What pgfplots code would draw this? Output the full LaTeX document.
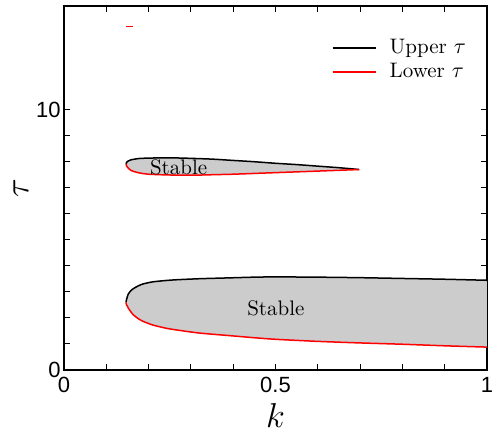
\documentclass[border=0pt]{standalone}
\usepackage{fontspec}
\usepackage{pgfplots}
\pgfplotsset{compat=1.18}
\newfontfamily\arial{Liberation Sans}
\pgfplotsset{legend image code/.code={\draw[#1] (0cm,0cm) -- (0.76cm,0cm); \path (0.76cm+4.5pt,0cm);}}
\begin{document}
\begin{tikzpicture}
\begin{axis}[
  scale only axis, width=211.5pt, height=182pt,
  xmin=0, xmax=1, ymin=0, ymax=14,
  clip=false,
  xtick={0,0.5,1}, xticklabels={0,0.5,1}, minor x tick num=4,
  ytick={0,10}, yticklabels={0,10}, minor y tick num=9,
  tick align=inside, xtick pos=both, ytick pos=both,
  major tick length=3pt, minor tick length=3pt,
  tick style={black, line width=0.5pt},
  axis line style={line width=0.7pt},
  ticklabel style={font=\arial\fontsize{11}{13}\selectfont},
  yticklabel style={inner sep=1.5pt},
  xticklabel style={inner xsep=0pt},
  /pgf/number format/assume math mode=true,
  xlabel={$k$}, ylabel={$\tau$},
  every axis x label/.style={at={(axis description cs:0.5,-0.125)}, anchor=center},
  every axis y label/.style={at={(axis description cs:-0.102,0.5)}, anchor=center, rotate=90},
  label style={font=\fontsize{16}{18}\selectfont},
  legend style={draw=none, fill=none, at={(0.975,0.932)}, anchor=north east,
    font=\fontsize{10.5}{12.5}\selectfont, row sep=-0.5pt},
  legend cell align=left,
]
\path (axis description cs:-0.1513,-0.173) rectangle (axis description cs:1.019,1.0165);
% fills
\addplot[fill=black!20, draw=none, forget plot] coordinates {
(0.147,2.60)(0.1472,2.66)(0.148,2.72)(0.150,2.83)(0.152,2.92)(0.158,3.05)(0.164,3.13)(0.175,3.23)(0.187,3.31)(0.21,3.39)(0.24,3.44)(0.266,3.47)(0.32,3.51)(0.385,3.54)(0.45,3.57)(0.50,3.58)(0.60,3.57)(0.70,3.55)(0.80,3.52)(0.90,3.49)(1.00,3.45)
(1.00,0.88)(0.90,0.93)(0.80,0.99)(0.70,1.04)(0.60,1.10)(0.50,1.18)(0.45,1.24)(0.385,1.33)(0.32,1.42)(0.266,1.54)(0.24,1.61)(0.21,1.73)(0.187,1.87)(0.175,1.98)(0.164,2.12)(0.158,2.24)(0.152,2.38)(0.150,2.45)(0.148,2.50)(0.1472,2.54)
} -- cycle;
\addplot[fill=black!20, draw=none, forget plot] coordinates {
(0.147,7.92)(0.1475,7.97)(0.150,8.02)(0.158,8.08)(0.175,8.13)(0.20,8.15)(0.25,8.16)(0.30,8.14)(0.35,8.11)(0.40,8.06)(0.45,8.01)(0.50,7.95)(0.55,7.90)(0.60,7.84)(0.65,7.78)(0.698,7.71)
(0.65,7.68)(0.60,7.65)(0.55,7.62)(0.50,7.59)(0.45,7.56)(0.40,7.53)(0.35,7.51)(0.30,7.49)(0.25,7.50)(0.20,7.53)(0.175,7.59)(0.158,7.68)(0.150,7.80)(0.1475,7.87)
} -- cycle;
% upper curves
\addplot[black, line width=0.75pt, smooth, tension=0.4] coordinates {
(0.147,2.60)(0.1472,2.66)(0.148,2.72)(0.150,2.83)(0.152,2.92)(0.158,3.05)(0.164,3.13)(0.175,3.23)(0.187,3.31)(0.21,3.39)(0.24,3.44)(0.266,3.47)(0.32,3.51)(0.385,3.54)(0.45,3.57)(0.50,3.58)(0.60,3.57)(0.70,3.55)(0.80,3.52)(0.90,3.49)(1.00,3.45)
};
\addlegendentry{Upper $\tau$}
\addplot[red, line width=0.75pt, smooth, tension=0.4] coordinates {
(0.147,2.60)(0.1472,2.54)(0.148,2.50)(0.150,2.45)(0.152,2.38)(0.158,2.24)(0.164,2.12)(0.175,1.98)(0.187,1.87)(0.21,1.73)(0.24,1.61)(0.266,1.54)(0.32,1.42)(0.385,1.33)(0.45,1.24)(0.50,1.18)(0.60,1.10)(0.70,1.04)(0.80,0.99)(0.90,0.93)(1.00,0.88)
};
\addlegendentry{Lower $\tau$}
\addplot[black, line width=0.75pt, smooth, tension=0.4, forget plot] coordinates {
(0.147,7.92)(0.1475,7.97)(0.150,8.02)(0.158,8.08)(0.175,8.13)(0.20,8.15)(0.25,8.16)(0.30,8.14)(0.35,8.11)(0.40,8.06)(0.45,8.01)(0.50,7.95)(0.55,7.90)(0.60,7.84)(0.65,7.78)(0.698,7.71)
};
\addplot[red, line width=0.75pt, smooth, tension=0.4, forget plot] coordinates {
(0.147,7.92)(0.1475,7.87)(0.150,7.80)(0.158,7.68)(0.175,7.59)(0.20,7.53)(0.25,7.50)(0.30,7.49)(0.35,7.51)(0.40,7.53)(0.45,7.56)(0.50,7.59)(0.55,7.62)(0.60,7.65)(0.65,7.68)(0.698,7.71)
};
\addplot[red, line width=0.75pt, forget plot] coordinates {(0.1466,13.22)(0.1638,13.22)};
\node[font=\fontsize{10.5}{12.5}\selectfont] at (axis cs:0.271,7.78) {Stable};
\node[font=\fontsize{10.5}{12.5}\selectfont] at (axis cs:0.501,2.37) {Stable};
\end{axis}
\end{tikzpicture}
\end{document}
